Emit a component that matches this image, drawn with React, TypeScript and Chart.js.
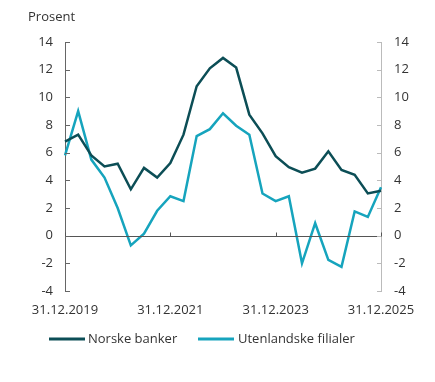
import React, { useEffect, useRef } from "react";
import { Chart, registerables } from "chart.js";

Chart.register(...registerables);

const quarters: string[] = [
  "31.12.2019", "31.03.2020", "30.06.2020", "30.09.2020",
  "31.12.2020", "31.03.2021", "30.06.2021", "30.09.2021",
  "31.12.2021", "31.03.2022", "30.06.2022", "30.09.2022",
  "31.12.2022", "31.03.2023", "30.06.2023", "30.09.2023",
  "31.12.2023", "31.03.2024", "30.06.2024", "30.09.2024",
  "31.12.2024", "31.03.2025", "30.06.2025", "30.09.2025",
  "31.12.2025",
];

const norskeBanker: number[] = [
  6.8, 7.3, 5.8, 5.0, 5.2, 3.35, 4.9, 4.2, 5.25, 7.3, 10.8, 12.1, 12.85,
  12.15, 8.75, 7.4, 5.75, 4.95, 4.55, 4.85, 6.1, 4.75, 4.4, 3.05, 3.25,
];

const utenlandskeFilialer: number[] = [
  5.8, 9.0, 5.5, 4.2, 2.0, -0.7, 0.15, 1.8, 2.85, 2.5, 7.2, 7.7, 8.85,
  7.95, 7.3, 3.05, 2.5, 2.85, -2.0, 0.9, -1.75, -2.25, 1.75, 1.35, 3.5,
];

const xTickIndexes: number[] = [0, 8, 16, 24];
const seriesNames: string[] = ["Norske banker", "Utenlandske filialer"];
const seriesColors: string[] = ["#0c4e56", "#16a4bd"];
const yMin = -4;
const yMax = 14;
const yStep = 2;
const unitLabel = "Prosent";

const FONT = "'Open Sans', 'Noto Sans', sans-serif";
const TEXT = "#333333";

const decorPlugin = {
  id: "decor",
  afterDatasetsDraw(chart: any) {
    const ctx = chart.ctx;
    const area = chart.chartArea;
    const x = chart.scales.x;
    const y = chart.scales.y;
    ctx.save();
    // zero line
    const zy = Math.round(y.getPixelForValue(0)) + 0.5;
    ctx.strokeStyle = "#555555";
    ctx.lineWidth = 1;
    ctx.beginPath();
    ctx.moveTo(area.left, zy);
    ctx.lineTo(area.right, zy);
    ctx.stroke();
    // x ticks on zero line
    xTickIndexes.forEach((i) => {
      const px = Math.round(x.getPixelForValue(i)) + 0.5;
      ctx.beginPath();
      ctx.moveTo(px, zy - 4);
      ctx.lineTo(px, zy);
      ctx.stroke();
    });
    // inward y ticks
    for (let v = yMin; v <= yMax; v += yStep) {
      const py = Math.round(y.getPixelForValue(v)) + 0.5;
      ctx.strokeStyle = "#666666";
      ctx.beginPath();
      ctx.moveTo(area.left, py);
      ctx.lineTo(area.left + 5, py);
      ctx.stroke();
      ctx.strokeStyle = "#bbbbbb";
      ctx.beginPath();
      ctx.moveTo(area.right - 4, py);
      ctx.lineTo(area.right, py);
      ctx.stroke();
    }
    ctx.restore();
  },
  afterDraw(chart: any) {
    const ctx = chart.ctx;
    ctx.save();
    ctx.font = `13px ${FONT}`;
    ctx.fillStyle = TEXT;
    ctx.textBaseline = "middle";
    ctx.textAlign = "left";
    ctx.fillText(unitLabel, 28, 17);
    // legend
    const ly = 339;
    const items = [
      { x0: 49, x1: 85, tx: 88 },
      { x0: 198, x1: 234, tx: 238 },
    ];
    items.forEach((it, i) => {
      ctx.strokeStyle = seriesColors[i];
      ctx.lineWidth = 3;
      ctx.beginPath();
      ctx.moveTo(it.x0, ly);
      ctx.lineTo(it.x1, ly);
      ctx.stroke();
      ctx.fillStyle = TEXT;
      ctx.fillText(seriesNames[i], it.tx, ly);
    });
    ctx.restore();
  },
};

export default function App() {
  const ref = useRef<HTMLCanvasElement | null>(null);
  useEffect(() => {
    if (!ref.current) return;
    const chart = new Chart(ref.current, {
      type: "line",
      data: {
        labels: quarters,
        datasets: [
          {
            label: seriesNames[0],
            data: norskeBanker,
            borderColor: seriesColors[0],
            backgroundColor: seriesColors[0],
            borderWidth: 2.5,
            pointRadius: 0,
            tension: 0,
            yAxisID: "y",
          },
          {
            label: seriesNames[1],
            data: utenlandskeFilialer,
            borderColor: seriesColors[1],
            backgroundColor: seriesColors[1],
            borderWidth: 2.5,
            pointRadius: 0,
            tension: 0,
            yAxisID: "y",
          },
        ],
      },
      options: {
        responsive: false,
        animation: false,
        layout: { padding: { top: 42, left: 0, right: 0, bottom: 0 } },
        plugins: {
          legend: { display: false },
          tooltip: { enabled: false },
        },
        scales: {
          x: {
            type: "category",
            offset: false,
            grid: { display: false, drawTicks: false },
            border: { display: false },
            ticks: {
              autoSkip: false,
              maxRotation: 0,
              padding: 11,
              color: TEXT,
              font: { family: FONT, size: 13 },
              callback: (_v: any, i: number) =>
                xTickIndexes.includes(i) ? quarters[i] : null,
            },
            afterFit: (s: any) => {
              s.height = 91;
            },
          },
          y: {
            position: "left",
            min: yMin,
            max: yMax,
            grid: { display: false, drawTicks: false },
            border: { display: true, color: "#666666", width: 1 },
            ticks: {
              stepSize: yStep,
              padding: 12,
              color: TEXT,
              font: { family: FONT, size: 13 },
            },
            afterFit: (s: any) => {
              s.width = 65;
            },
          },
          y2: {
            position: "right",
            min: yMin,
            max: yMax,
            grid: { display: false, drawTicks: false },
            border: { display: true, color: "#bbbbbb", width: 1 },
            ticks: {
              stepSize: yStep,
              padding: 13,
              color: TEXT,
              font: { family: FONT, size: 13 },
            },
            afterFit: (s: any) => {
              s.width = 54;
            },
          },
        },
      },
      plugins: [decorPlugin],
    });
    return () => chart.destroy();
  }, []);
  return (
    <div style={{ position: "absolute", left: 0, top: 0, width: 435, height: 382, background: "#fff" }}>
      <canvas ref={ref} width={435} height={382} />
    </div>
  );
}
